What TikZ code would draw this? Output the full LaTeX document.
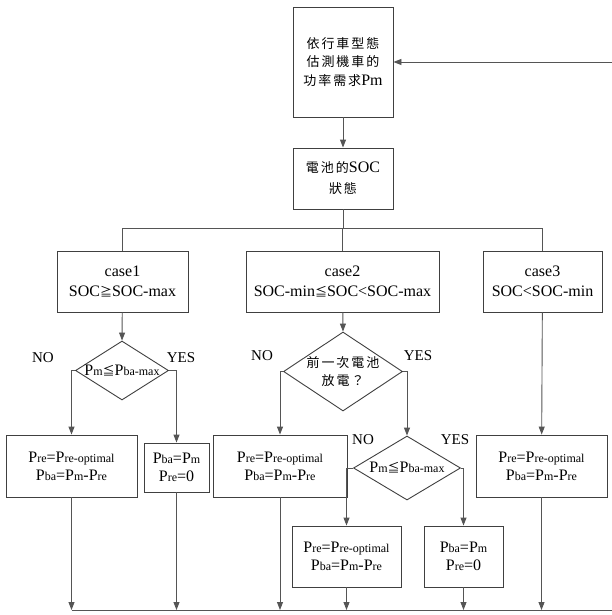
\documentclass[tikz,border=0pt]{standalone}
\usepackage{fontspec}
\setmainfont{Liberation Serif}
\newfontfamily\cjk[LetterSpace=15]{Noto Sans CJK TC}
\newfontfamily\cjksym{Noto Sans CJK TC}
\usetikzlibrary{shapes.geometric,arrows.meta}
% lowered-size letters written after a capital P (Pm, Pba, Pre ...)
\newcommand\lo[1]{{\fontsize{12}{12}\selectfont #1}}
\newcommand\GEsym{{\cjksym\fontsize{12}{12}\selectfont ≧}}
\newcommand\LEsym{{\cjksym\fontsize{12}{12}\selectfont ≦}}
\newcommand\CJ[1]{{\cjk\fontsize{13}{13}\selectfont #1}}
\definecolor{boxgray}{HTML}{404040}
\definecolor{linegray}{HTML}{555555}
\tikzset{
  box/.style={draw=boxgray, line width=0.9pt, align=center, inner sep=0pt, fill=white},
  dia/.style={diamond, draw=boxgray, line width=0.9pt, inner sep=0pt, aspect=1.6},
  wire/.style={draw=linegray, line width=0.9pt},
  arr/.style={wire, -{Triangle[width=6pt,length=8pt]}},
  lbl/.style={font=\fontsize{15}{15}\selectfont, inner sep=0pt},
  txt/.style={font=\fontsize{16}{18}\selectfont}
}
\begin{document}
\begin{tikzpicture}[x=1pt,y=-1pt]
\useasboundingbox[fill=white] (0,0) rectangle (612,615);

% helper rails
\coordinate (junc) at (0,228);
\coordinate (bus) at (0,610);
\coordinate (busR) at (630,610);
\coordinate (retR) at (630,62);

% main boxes
\node[box, txt, font=\fontsize{16}{18.5}\selectfont, minimum width=100pt, minimum height=110pt] (top) at (343,62)
  {\CJ{依行車型態}\\\CJ{估測機車的}\\\CJ{功率需求}Pm};
\node[box, txt, font=\fontsize{16}{21}\selectfont, minimum width=100pt, minimum height=61pt] (soc) at (343,178.5)
  {\CJ{電池的}SOC\\\CJ{狀態}};

\node[box, txt, font=\fontsize{16}{20}\selectfont, minimum width=131pt, minimum height=61pt] (case1) at (122.5,281.5)
  {case1\\SOC\GEsym SOC-max};
\node[box, txt, font=\fontsize{16}{20}\selectfont, minimum width=193pt, minimum height=61pt] (case2) at (342.5,281.5)
  {case2\\SOC-min\LEsym SOC<SOC-max};
\node[box, txt, font=\fontsize{16}{20}\selectfont, minimum width=119pt, minimum height=61pt] (case3) at (542.5,281.5)
  {case3\\SOC<SOC-min};

% decisions
\node[dia, minimum width=93pt, minimum height=59pt,
  label={[txt, inner sep=0pt]center:P\lo{m}\LEsym P\lo{ba-max}}] (d1) at (122,370.5) {};
\node[dia, minimum width=119pt, minimum height=79pt,
  label={[font=\fontsize{16}{18}\selectfont, align=center, inner sep=0pt]center:\CJ{前一次電池}\\\CJ{放電？}}] (d2) at (343,371.5) {};
\node[dia, minimum width=107pt, minimum height=64pt,
  label={[txt, inner sep=0pt]center:P\lo{m}\LEsym P\lo{ba-max}}] (d3) at (407,468) {};

% result boxes
\node[box, txt, minimum width=131pt, minimum height=62pt] (boxA) at (71.5,466)
  {P\lo{re}=P\lo{re-optimal}\\P\lo{ba}=P\lo{m}-P\lo{re}};
\node[box, txt, minimum width=65pt, minimum height=49pt] (boxB) at (176.5,467.5)
  {P\lo{ba}=P\lo{m}\\P\lo{re}=0};
\node[box, txt, minimum width=134pt, minimum height=62pt] (boxC) at (280,466)
  {P\lo{re}=P\lo{re-optimal}\\P\lo{ba}=P\lo{m}-P\lo{re}};
\node[box, txt, minimum width=131pt, minimum height=62pt] (boxD) at (541.5,466)
  {P\lo{re}=P\lo{re-optimal}\\P\lo{ba}=P\lo{m}-P\lo{re}};
\node[box, txt, minimum width=109pt, minimum height=61pt] (boxE) at (346.5,556.5)
  {P\lo{re}=P\lo{re-optimal}\\P\lo{ba}=P\lo{m}-P\lo{re}};
\node[box, txt, minimum width=79pt, minimum height=61pt] (boxF) at (463.5,556.5)
  {P\lo{ba}=P\lo{m}\\P\lo{re}=0};

% branch labels
\node[lbl] (no1) at (43,358) {NO};
\node[lbl] (yes1) at (181,358) {YES};
\node[lbl] (no2) at (262,356) {NO};
\node[lbl] (yes2) at (418,356) {YES};
\node[lbl] (no3) at (363,440) {NO};
\node[lbl] (yes3) at (455,440) {YES};

% connectors
\draw[arr] (top) -- (soc);
\draw[wire] (soc) -- (soc |- junc);
\draw[wire] (case1 |- junc) -- (case3 |- junc);
\draw[wire] (case1 |- junc) -- (case1.north);
\draw[wire] (case2 |- junc) -- (case2.north);
\draw[wire] (case3 |- junc) -- (case3.north);

\draw[arr] (case1) -- (d1.north);
\draw[arr] (case2) -- (d2.north);
\draw[arr] (case3) -- (boxD);

\draw[arr] (d1.west) -| (boxA.north);
\draw[arr] (d1.east) -| (boxB.north);
\draw[arr] (d2.west) -| (boxC.north);
\draw[arr] (d2.east) -| (d3.north);
\draw[arr] (d3.west) -| (boxE.north);
\draw[arr] (d3.east) -| (boxF.north);

\foreach \b in {boxA,boxB,boxC,boxD,boxE,boxF}
  \draw[arr] (\b) -- (\b |- bus);

% return rail back to the first box
\draw[arr] (boxA |- bus) -- (busR) -- (retR) -- (top.east);
\end{tikzpicture}
\end{document}
